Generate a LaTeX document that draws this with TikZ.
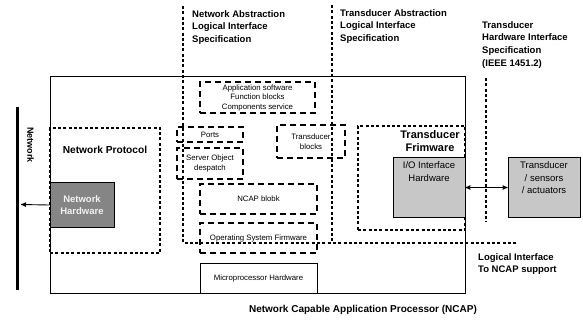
\documentclass[tikz,border=0pt]{standalone}
\usepackage{fontspec}
\setmainfont{Liberation Sans}
\usetikzlibrary{arrows,positioning}

\begin{document}
\begin{tikzpicture}[x=1pt,y=-1pt,>=stealth',
  dotline/.style={line width=2.8pt,dash pattern=on 3pt off 2.3pt},
  dashbox/.style={draw,line width=1.4pt,dash pattern=on 6pt off 4pt,align=center,
    inner sep=1pt,font=\fontsize{7.8}{9.5}\selectfont},
  dotbox/.style={draw,dotline},
  shadebox/.style={draw,line width=0.6pt,align=center,font=\fontsize{9.5}{12.5}\selectfont},
  lbl/.style={align=left,inner sep=0pt,font=\bfseries\fontsize{9.5}{12.8}\selectfont}]
  \useasboundingbox (0,0) rectangle (583,322);

  % NCAP outline
  \draw[line width=0.8pt] (50,76) rectangle (465,293);

  % network side
  \draw[line width=3pt] (17,107) -- (17,290);
  \node[rotate=-90,anchor=north west,inner sep=0pt,font=\bfseries\fontsize{9}{10}\selectfont]
    (netlbl) at (34,127) {Network};
  \coordinate (nb) at (21,204.5);

  \node[dotbox,minimum width=110pt,minimum height=125pt] (netproto) at (105,190.5) {};
  \node[lbl,font=\bfseries\fontsize{10.2}{11}\selectfont] (nplbl) [below=19pt of netproto.north] {Network Protocol};
  \node[shadebox,fill=black!48,text=black!5,minimum width=64pt,minimum height=45pt,
    font=\bfseries\fontsize{9.5}{12}\selectfont] (nethw) at (82,205) {Network\\Hardware};

  % software blocks
  \node[dashbox,minimum width=115pt,minimum height=31pt] (app) at (257.5,97.5)
    {Application software\\Function blocks\\Components service};
  \node[dashbox,minimum width=66pt,minimum height=15pt] (ports) at (210,134.5) {Ports};
  \node[dashbox,minimum width=66pt,minimum height=31pt] (sod) at (210,163.5) {Server Object\\despatch};
  \node[dashbox,minimum width=68pt,minimum height=33pt] (tblk) at (311,141.5) {Transducer\\blocks};
  \node[dashbox,minimum width=117pt,minimum height=30pt] (ncapb) at (258.5,199) {NCAP blobk};
  \node[dashbox,minimum width=117pt,minimum height=30pt] (osf) at (258.5,238) {Operating System Firmware};
  \node[shadebox,minimum width=117pt,minimum height=30pt,font=\fontsize{7.8}{9.5}\selectfont]
    (micro) at (258.5,278) {Microprocessor Hardware};

  % transducer side
  \node[dotbox,minimum width=107pt,minimum height=104pt] (tfirm) at (411.5,178) {};
  \node[lbl,align=center,font=\bfseries\fontsize{11}{12.5}\selectfont] (tflbl) at (430,141) {Transducer\\Frimware};
  \node[shadebox,fill=black!22,minimum width=72pt,minimum height=60pt] (iohw) at (429,187.5) {};
  \node[shadebox,draw=none,anchor=north] (iolbl) [below=1pt of iohw.north] {I/O Interface\\Hardware};
  \node[shadebox,fill=black!22,minimum width=72pt,minimum height=60pt] (tsa) at (544,187.5) {};
  \node[shadebox,draw=none,anchor=north] (tsalbl) [below=1pt of tsa.north] {Transducer\\/ sensors\\/ actuators};

  % interface lines
  \draw[dotline] (183,6) -- (183,243) -- (518,243);
  \draw[dotline] (332,5) -- (332,243);
  \draw[dotline] (486,78) -- (486,222);

  \draw[->,line width=0.9pt] (nethw.west) -- (nb);
  \draw[<->,line width=0.9pt] (iohw.east) -- (tsa.west);

  % texts
  \node[lbl,anchor=north west] (nal) at (192,10) {Network Abstraction\\Logical Interface\\Specification};
  \node[lbl,anchor=north west] (tal) at (340,9) {Transducer Abstraction\\Logical Interface\\Specification};
  \node[lbl,anchor=north west] (thl) at (482,21) {Transducer\\Hardware Interface\\Specification\\(IEEE 1451.2)};
  \node[lbl,anchor=north west] (lit) at (478,253) {Logical Interface\\To NCAP support};
  \node[lbl,font=\bfseries\fontsize{10}{12}\selectfont] (title) at (363,310) {Network Capable Application Processor (NCAP)};
\end{tikzpicture}
\end{document}
